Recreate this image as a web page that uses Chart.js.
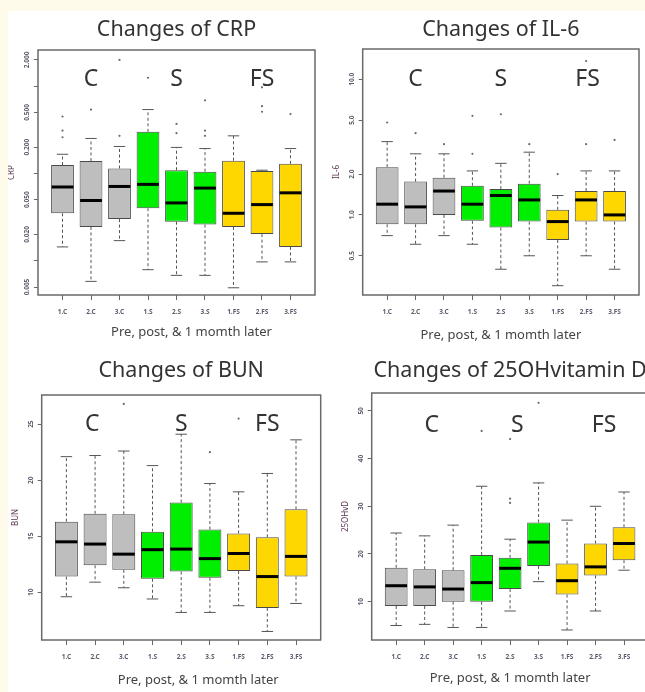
<!DOCTYPE html>
<html>
<head>
<meta charset="utf-8">
<script src="https://cdn.jsdelivr.net/npm/chart.js@4.4.1/dist/chart.umd.min.js"></script>
<style>
  html, body { margin: 0; padding: 0; }
  body { width: 645px; height: 692px; overflow: hidden; background: #fffbea; position: relative; }
  #paper { position: absolute; left: 8px; top: 11px; width: 637px; height: 681px; background: #fff; }
  canvas { position: absolute; }
</style>
</head>
<body>
<div id="paper"></div>
<canvas id="cCRP" width="312" height="330" style="left:8px;top:12px"></canvas>
<canvas id="cIL6" width="315" height="330" style="left:330px;top:12px"></canvas>
<canvas id="cBUN" width="322" height="350" style="left:8px;top:342px"></canvas>
<canvas id="cVitD" width="330" height="350" style="left:330px;top:342px"></canvas>
<script>
"use strict";

// categories (x axis)
var groups = ['1.C', '2.C', '3.C', '1.S', '2.S', '3.S', '1.FS', '2.FS', '3.FS'];
var groupNames = ['C', 'S', 'FS'];
var xTitle = 'Pre, post, & 1 momth later';

// CRP
var crpLow  = [0.0144, 0.0058, 0.017, 0.0079, 0.0068, 0.0068, 0.0049, 0.0097, 0.0097];
var crpQ1   = [0.035, 0.0244, 0.030, 0.040, 0.028, 0.026, 0.0244, 0.0202, 0.0144];
var crpMed  = [0.070, 0.049, 0.071, 0.075, 0.046, 0.068, 0.035, 0.044, 0.060];
var crpQ3   = [0.125, 0.139, 0.114, 0.30, 0.109, 0.105, 0.140, 0.107, 0.129];
var crpHigh = [0.166, 0.252, 0.204, 0.54, 0.199, 0.193, 0.27, 0.109, 0.193];
var crpOut  = [[0.45, 0.31, 0.26], [0.54], [0.27, 2.0], [1.25], [0.37, 0.29], [0.69, 0.31, 0.27], [], [0.97, 0.59, 0.51], [0.48]];
var crpTicks = [0.005, 0.01, 0.02, 0.05, 0.1, 0.2, 0.5, 1, 2];
var crpTickLabels = ['0.005', '', '0.020', '0.050', '', '0.200', '0.500', '', '2.000'];

// IL-6
var il6Low  = [0.704, 0.608, 0.704, 0.608, 0.398, 0.5, 0.301, 0.5, 0.398];
var il6Q1   = [0.853, 0.853, 1.0, 0.904, 0.807, 0.893, 0.654, 0.893, 0.893];
var il6Med  = [1.20, 1.146, 1.50, 1.20, 1.39, 1.29, 0.893, 1.29, 1.0];
var il6Q3   = [2.25, 1.76, 1.88, 1.64, 1.55, 1.70, 1.09, 1.50, 1.50];
var il6High = [3.47, 2.82, 2.82, 2.11, 2.40, 2.90, 1.39, 2.11, 2.11];
var il6Out  = [[4.8], [4.0], [3.32], [5.37, 2.82], [5.52], [3.32], [2.0], [3.32, 13.6], [3.57]];
var il6Ticks = [0.5, 1, 2, 5, 10];
var il6TickLabels = ['0.5', '1.0', '2.0', '5.0', '10.0'];

// BUN
var bunLow  = [9.6, 10.9, 10.4, 9.4, 8.2, 8.2, 8.8, 6.5, 9.0];
var bunQ1   = [11.4, 12.4, 12.0, 11.2, 11.85, 11.3, 11.9, 8.6, 11.4];
var bunMed  = [14.5, 14.3, 13.4, 13.8, 13.85, 13.0, 13.46, 11.4, 13.2];
var bunQ3   = [16.3, 17.0, 16.95, 15.4, 18.0, 15.6, 15.25, 14.9, 17.4];
var bunHigh = [22.1, 22.2, 22.6, 21.3, 24.1, 19.7, 18.96, 20.6, 23.6];
var bunOut  = [[], [], [26.8], [], [], [22.5], [25.5], [], []];
var bunTicks = [10, 15, 20, 25];
var bunTickLabels = ['10', '15', '20', '25'];

// 25OH vitamin D
var vdLow  = [5.0, 5.25, 4.6, 4.6, 8.05, 14.2, 4.07, 8.05, 16.6];
var vdQ1   = [9.1, 9.1, 10.0, 10.0, 12.65, 17.5, 11.5, 15.5, 18.7];
var vdMed  = [13.35, 13.1, 12.65, 14.0, 17.0, 22.5, 14.4, 17.3, 22.2];
var vdQ3   = [17.1, 16.8, 16.6, 19.8, 19.2, 26.6, 18.0, 22.2, 25.6];
var vdHigh = [24.4, 23.8, 26.05, 34.2, 23.1, 34.9, 27.1, 30.0, 33.0];
var vdOut  = [[], [], [], [45.8], [44.1, 31.6, 30.7], [51.7], [], [], []];
var vdTicks = [10, 20, 30, 40, 50];
var vdTickLabels = ['10', '20', '30', '40', '50'];

var boxColors = ['#bebebe', '#bebebe', '#bebebe', '#00ee00', '#00ee00', '#00ee00', '#ffd700', '#ffd700', '#ffd700'];

Chart.defaults.font.family = '"Noto Sans", sans-serif';

// whiskers, medians, frame and in-plot text
function BoxPartsPlugin(p) {
	return {
		id: 'boxParts',
		afterDatasetsDraw: function (chart) {
			var ctx = chart.ctx;
			var xs = chart.scales.x, ys = chart.scales.y, area = chart.chartArea;
			var bars = chart.getDatasetMeta(0).data;

			function seg(x1, y1, x2, y2) {
				ctx.beginPath();
				ctx.moveTo(x1, y1);
				ctx.lineTo(x2, y2);
				ctx.stroke();
			}

			ctx.save();
			p.med.forEach(function (m, i) {
				var x = xs.getPixelForValue(i + 1);
				var w = bars[i].width;
				var yLow = ys.getPixelForValue(p.low[i]), yHigh = ys.getPixelForValue(p.high[i]);
				ctx.strokeStyle = '#555';
				ctx.lineWidth = 1;
				ctx.setLineDash([3, 2.5]);
				seg(x, ys.getPixelForValue(p.q3[i]), x, yHigh);
				seg(x, ys.getPixelForValue(p.q1[i]), x, yLow);
				ctx.setLineDash([]);
				seg(x - w / 4, yHigh, x + w / 4, yHigh);
				seg(x - w / 4, yLow, x + w / 4, yLow);
				ctx.strokeStyle = '#000';
				ctx.lineWidth = 3;
				var ym = ys.getPixelForValue(m);
				seg(x - w / 2 + 0.5, ym, x + w / 2 - 0.5, ym);
			});

			ctx.strokeStyle = '#6a6a6a';
			ctx.lineWidth = 1.5;
			ctx.strokeRect(area.left, area.top, area.width, area.height);

			ctx.fillStyle = '#333';
			ctx.textAlign = 'center';
			ctx.textBaseline = 'middle';
			ctx.font = '23px "Noto Sans"';
			groupNames.forEach(function (g, k) {
				ctx.fillText(g, xs.getPixelForValue(p.groupX[k]), ys.getPixelForValue(p.groupY));
			});

			ctx.font = '13px "Noto Sans"';
			ctx.fillStyle = '#444';
			ctx.fillText(xTitle, (area.left + area.right) / 2 + p.xTitleShift, area.bottom + p.xTitleGap);
			ctx.restore();
		}
	};
}

function MakePanel(canvasId, p) {
	var boxes = p.q1.map(function (v, i) {
		return { x: i + 1, y: [v, p.q3[i]] };
	});
	var outliers = [];
	p.out.forEach(function (list, i) {
		list.forEach(function (v) {
			outliers.push({ x: i + 1, y: v });
		});
	});

	return new Chart(document.getElementById(canvasId), {
		type: 'bar',
		data: {
			datasets: [{
				type: 'bar',
				data: boxes,
				backgroundColor: boxColors,
				borderColor: '#4a4a4a',
				borderWidth: 1,
				borderSkipped: false,
				categoryPercentage: 0.8,
				barPercentage: 1,
				order: 2
			}, {
				type: 'scatter',
				data: outliers,
				pointRadius: 1.1,
				pointBackgroundColor: '#6a6a6a',
				pointBorderWidth: 0,
				order: 1
			}]
		},
		options: {
			responsive: false,
			animation: false,
			layout: { padding: { left: p.padLeft, right: p.padRight, top: 0, bottom: 0 } },
			plugins: {
				legend: { display: false },
				tooltip: { enabled: false },
				title: {
					display: true,
					text: p.title,
					fullSize: false,
					color: '#333',
					font: { size: 21.5, weight: 'normal', lineHeight: 1 },
					padding: { top: p.titleTop, bottom: p.titleBottom }
				}
			},
			scales: {
				x: {
					type: 'linear',
					min: 0.14,
					max: 9.86,
					offset: false,
					afterBuildTicks: function (s) {
						s.ticks = groups.map(function (g, i) { return { value: i + 1 }; });
					},
					afterFit: function (s) { s.height = p.xAxisHeight; },
					ticks: {
						autoSkip: false,
						maxRotation: 0,
						padding: 8,
						color: '#5b5b6e',
						font: { size: 6.5, weight: 'bold' },
						callback: function (v) { return groups[v - 1]; }
					},
					grid: { drawOnChartArea: false, offset: false, tickLength: 5, color: '#666' },
					border: { display: false }
				},
				y: {
					type: p.log ? 'logarithmic' : 'linear',
					min: p.min,
					max: p.max,
					afterBuildTicks: function (s) {
						s.ticks = p.ticks.map(function (v) { return { value: v }; });
					},
					afterFit: function (s) { s.width = 30; },
					ticks: {
						minRotation: 90,
						maxRotation: 90,
						crossAlign: 'center',
						padding: p.yTickPad,
						color: '#5b5b6e',
						font: { size: 6.5, weight: 'bold' },
						callback: function (v, i) { return p.tickLabels[i]; }
					},
					grid: { drawOnChartArea: false, tickLength: 4, color: '#666' },
					border: { display: false },
					title: {
						display: true,
						text: p.yTitle,
						color: '#5a3450',
						font: { size: 8, lineHeight: 1 },
						padding: { top: 0, bottom: 0 }
					}
				}
			}
		},
		plugins: [BoxPartsPlugin(p)]
	});
}

MakePanel('cCRP', {
	title: 'Changes of CRP', yTitle: 'CRP', log: true, min: 0.00405, max: 2.6,
	low: crpLow, q1: crpQ1, med: crpMed, q3: crpQ3, high: crpHigh, out: crpOut,
	ticks: crpTicks, tickLabels: crpTickLabels,
	groupX: [2, 5, 8], groupY: 1.2,
	padLeft: 0, padRight: 5, titleTop: 6.75, titleBottom: 9.75, xAxisHeight: 47,
	yTickPad: -1.5, xTitleShift: 15, xTitleGap: 37
});

MakePanel('cIL6', {
	title: 'Changes of IL-6', yTitle: 'IL-6', log: true, min: 0.257, max: 16.7,
	low: il6Low, q1: il6Q1, med: il6Med, q3: il6Q3, high: il6High, out: il6Out,
	ticks: il6Ticks, tickLabels: il6TickLabels,
	groupX: [2, 5, 8.05], groupY: 10,
	padLeft: 2.7, padRight: 6, titleTop: 7.25, titleBottom: 8.25, xAxisHeight: 47,
	yTickPad: 0.5, xTitleShift: 0, xTitleGap: 40
});

MakePanel('cBUN', {
	title: 'Changes of BUN', yTitle: 'BUN', log: false, min: 5.74, max: 27.6,
	low: bunLow, q1: bunQ1, med: bunMed, q3: bunQ3, high: bunHigh, out: bunOut,
	ticks: bunTicks, tickLabels: bunTickLabels,
	groupX: [1.9, 5, 8], groupY: 25,
	padLeft: 3.7, padRight: 9.3, titleTop: 18.25, titleBottom: 13.25, xAxisHeight: 52,
	yTickPad: 3.2, xTitleShift: 17, xTitleGap: 40
});

MakePanel('cVitD', {
	title: 'Changes of 25OHvitamin D', yTitle: '25OHvD', log: false, min: 1.97, max: 53.75,
	low: vdLow, q1: vdQ1, med: vdMed, q3: vdQ3, high: vdHigh, out: vdOut,
	ticks: vdTicks, tickLabels: vdTickLabels,
	groupX: [2.25, 5.25, 8.3], groupY: 47,
	padLeft: 11.7, padRight: 11.5, titleTop: 18.25, titleBottom: 11.25, xAxisHeight: 52,
	yTickPad: 3.2, xTitleShift: 0, xTitleGap: 38
});
</script>
</body>
</html>
